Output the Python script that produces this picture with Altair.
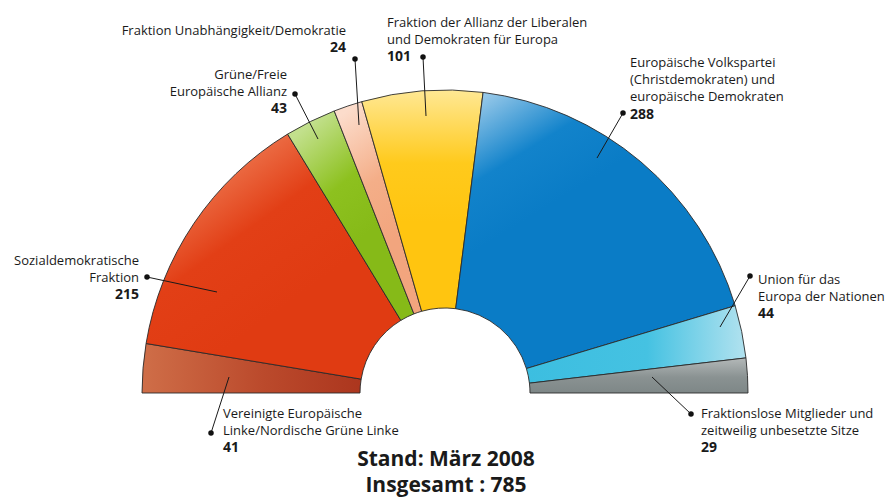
import math
import altair as alt
import pandas as pd

# ---------------- data ----------------
parties = ["GUE/NGL", "SPE", "Grüne/EFA", "IND/DEM", "ALDE", "EVP-ED", "UEN", "Fraktionslos"]
seats = [41, 215, 43, 24, 101, 288, 44, 29]
label_lines = [
    ["Vereinigte Europäische", "Linke/Nordische Grüne Linke"],
    ["Sozialdemokratische", "Fraktion"],
    ["Grüne/Freie", "Europäische Allianz"],
    ["Fraktion Unabhängigkeit/Demokratie"],
    ["Fraktion der Allianz der Liberalen", "und Demokraten für Europa"],
    ["Europäische Volkspartei", "(Christdemokraten) und", "europäische Demokraten"],
    ["Union für das", "Europa der Nationen"],
    ["Fraktionslose Mitglieder und", "zeitweilig unbesetzte Sitze"],
]
title_lines = ["Stand: März 2008", "Insgesamt : 785"]

# ---------------- styles ----------------
# (light, base, end) colours and gradient direction (x1, y1, x2, y2) per segment
shades = [
    ("#CF6E48", "#BB4A2C", "#AC361E", (0, 0, 1, 0)),
    ("#F28D66", "#E23F16", "#E03B12", (0.1, 0.1, 0.55, 0.7)),
    ("#C2E08C", "#8DC11F", "#86BA18", (0.3, 0, 0.6, 0.6)),
    ("#FCDCCB", "#F4AE88", "#F2A57E", (0.3, 0, 0.5, 0.7)),
    ("#FFE894", "#FFCA1C", "#FFC510", (0.5, 0, 0.5, 0.6)),
    ("#9CCBEA", "#1283CB", "#0A7CC6", (0.1, 0, 0.35, 0.4)),
    ("#3CBEE0", "#45C2E2", "#B2E2EF", (0, 0.5, 1, 0.5)),
    ("#B4B9B9", "#8A9292", "#7E8787", (0.5, 0, 0.5, 1)),
]

# ---------------- annotation layout (units = px, origin at arc centre, y up) ----------------
lab_x = [-222, -306, -158, -99, -58, 185, 313, 256]
lab_y = [-25, 128, 314, 358, 366, 326, 109, -25]      # baseline of first line
lab_align = ["left", "right", "right", "right", "left", "left", "left", "left"]
dot_x = [-234, -298, -150, -90, -22, 178, 305, 246]
dot_y = [-40, 116, 299, 334, 336, 280, 117, -21]
tip_x = [-216, -228, -127, -86, -19, 152, 275, 207]
tip_y = [16, 101, 254, 268, 277, 235, 66, 16]
LINE = 17.2
title_x = 1
title_y = [-73, -99]

W, H = 877, 489
X0, Y0 = -437, 385          # data value at left / top edge
xs = alt.Scale(domain=[X0, X0 + W], nice=False, zero=False)
ys = alt.Scale(domain=[Y0 - H, Y0], nice=False, zero=False)
ts = alt.Scale(domain=[0, sum(seats)], range=[-math.pi / 2, math.pi / 2], nice=False, zero=True)

seg = pd.DataFrame({"party": parties, "seats": seats, "idx": range(len(parties))})

name_rows, num_rows = [], []
for i, lines in enumerate(label_lines):
    for j, t in enumerate(lines):
        name_rows.append({"x": lab_x[i], "y": lab_y[i] - j * LINE, "text": t, "align": lab_align[i]})
    num_rows.append({"x": lab_x[i], "y": lab_y[i] - len(lines) * LINE, "text": str(seats[i]), "align": lab_align[i]})
names = pd.DataFrame(name_rows)
nums = pd.DataFrame(num_rows)
leaders = pd.DataFrame({"x": dot_x, "y": dot_y, "x2": tip_x, "y2": tip_y})
titles = pd.DataFrame({"x": [title_x] * 2, "y": title_y, "text": title_lines})

X = lambda f: alt.X(f, type="quantitative", scale=xs, axis=None)
Y = lambda f: alt.Y(f, type="quantitative", scale=ys, axis=None)

base = alt.Chart(seg).transform_window(
    cum="sum(seats)", sort=[alt.SortField("idx")], frame=[None, 0]
).transform_calculate(start="datum.cum - datum.seats")

layers = []
for i, (light, mid, end, (x1, y1, x2, y2)) in enumerate(shades):
    grad = alt.Gradient(
        gradient="linear", x1=x1, y1=y1, x2=x2, y2=y2,
        stops=[alt.GradientStop(offset=0, color=light),
               alt.GradientStop(offset=0.55, color=mid),
               alt.GradientStop(offset=1, color=end)],
    )
    layers.append(base.transform_filter(alt.datum.idx == i).mark_arc(
        outerRadius=303, innerRadius=85, stroke="#2a2a2a", strokeWidth=0.9, fill=grad
    ).encode(
        theta=alt.Theta("start:Q", scale=ts),
        theta2="cum:Q",
        x=alt.X(datum=0, type="quantitative", scale=xs, axis=None),
        y=alt.Y(datum=0, type="quantitative", scale=ys, axis=None),
    ))

rules = alt.Chart(leaders).mark_rule(color="#1a1a1a", strokeWidth=1).encode(
    x=X("x"), y=Y("y"), x2="x2:Q", y2="y2:Q")
dots = alt.Chart(leaders).mark_circle(size=30, color="#111111", opacity=1).encode(x=X("x"), y=Y("y"))
layers += [rules, dots]

for al in ["left", "right"]:
    layers.append(alt.Chart(names).transform_filter(alt.datum.align == al).mark_text(
        font="Open Sans", fontSize=13, color="#1a1a1a", align=al, baseline="alphabetic"
    ).encode(x=X("x"), y=Y("y"), text="text:N"))
    layers.append(alt.Chart(nums).transform_filter(alt.datum.align == al).mark_text(
        font="Open Sans", fontSize=14, fontWeight="bold", color="#1a1a1a", align=al, baseline="alphabetic"
    ).encode(x=X("x"), y=Y("y"), text="text:N"))

layers.append(alt.Chart(titles).mark_text(
    font="Open Sans", fontSize=21, fontWeight="bold", color="#1a1a1a", align="center", baseline="alphabetic"
).encode(x=X("x"), y=Y("y"), text="text:N"))

chart = alt.layer(*layers).properties(
    width=W, height=H, padding=0, autosize=alt.AutoSizeParams(type="none"), background="white"
).configure_view(stroke=None)

chart.save("out.html", embed_options={"renderer": "svg", "actions": False})
